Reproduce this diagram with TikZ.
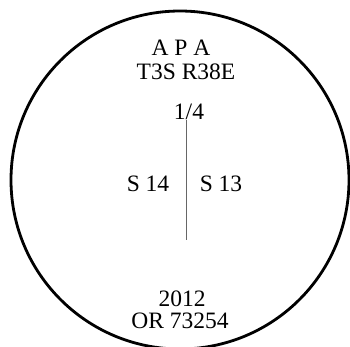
\documentclass[tikz,border=0pt]{standalone}
\usepackage{fontspec}
\setmainfont{Liberation Serif}
\begin{document}
\begin{tikzpicture}[x=1pt,y=-1pt,
  lbl/.style={anchor=base,inner sep=0pt,font=\fontsize{23.5}{26}\selectfont}]
\useasboundingbox (0,0) rectangle (350,346);
\clip (0,0) rectangle (350,346);
\draw[line width=2.8pt] (180,180) circle[radius=169];
\node[lbl] (apa) at (181,55) {A P A};
\node[lbl] (trs) at (186,79) {T3S R38E};
\node[lbl] (q) at (189,119) {1/4};
\coordinate (top) at (186,120);
\coordinate (bot) at (186,240);
\draw[line width=0.8pt,black!60] (top) -- (bot);
\node[lbl] (s14) at (148,191) {S 14};
\node[lbl] (s13) at (221,191) {S 13};
\node[lbl] (yr) at (182,306) {2012};
\node[lbl] (orn) at (180,328) {OR 73254};
\end{tikzpicture}
\end{document}
